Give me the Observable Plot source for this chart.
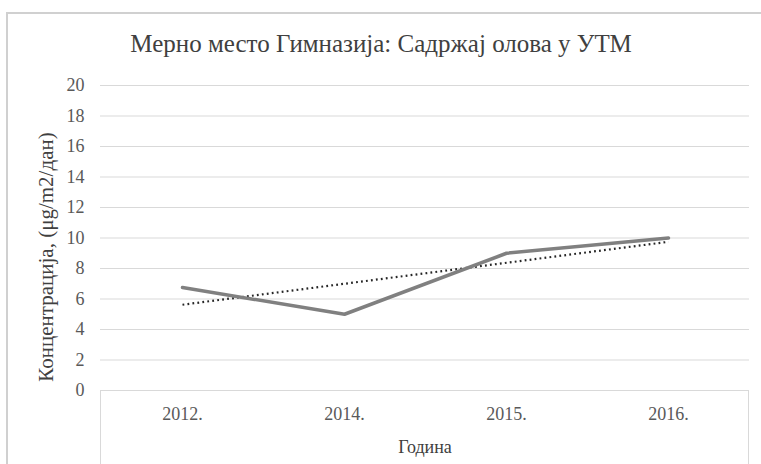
<!DOCTYPE html>
<html>
<head>
<meta charset="utf-8">
<script src="https://cdn.jsdelivr.net/npm/d3@7"></script>
<script src="https://cdn.jsdelivr.net/npm/@observablehq/plot@0.6"></script>
<style>
  html, body { margin: 0; padding: 0; background: #fff; }
  #wrap { position: relative; width: 761px; height: 464px; overflow: hidden; }
  #frame { position: absolute; left: 6px; top: 12px; width: 800px; height: 500px; border: 2px solid #d0d0d0; box-sizing: border-box; }
  #box { position: absolute; left: 100px; top: 390px; width: 649px; height: 80px; border-left: 1px solid #d9d9d9; border-right: 1px solid #d9d9d9; box-sizing: border-box; }
  #chart { position: absolute; left: 0; top: 0; }
</style>
</head>
<body>
<div id="wrap">
  <div id="frame"></div>
  <div id="box"></div>
  <div id="chart"></div>
</div>
<script>
const title = "Мерно место Гимназија: Садржај олова у УТМ";
const yLabel = "Концентрација, (μg/m2/дан)";
const xLabel = "Година";
const years = ["2012.", "2014.", "2015.", "2016."];
const values = [6.75, 5, 9, 10];
const yTicks = [0, 2, 4, 6, 8, 10, 12, 14, 16, 18, 20];

const data = years.map((y, i) => ({year: y, value: values[i]}));

// linear trend (least squares over category index)
const n = values.length;
const xs = values.map((_, i) => i + 1);
const mx = d3.mean(xs), my = d3.mean(values);
const slope = d3.sum(xs.map((x, i) => (x - mx) * (values[i] - my))) / d3.sum(xs.map(x => (x - mx) ** 2));
const trend = [
  {year: years[0], value: my + slope * (xs[0] - mx)},
  {year: years[n - 1], value: my + slope * (xs[n - 1] - mx)}
];

const font = "Liberation Serif";

const chart = Plot.plot({
  width: 761,
  height: 464,
  marginLeft: 100,
  marginRight: 12,
  marginTop: 85,
  marginBottom: 74,
  style: {fontFamily: font, background: "transparent"},
  x: {type: "point", domain: years, padding: 0.5, align: 0.5, label: null},
  y: {domain: [0, 20], ticks: yTicks, label: null},
  marks: [
    Plot.gridY(yTicks, {stroke: "#d9d9d9", strokeOpacity: 1, strokeWidth: 1}),
    Plot.axisY(yTicks, {tickSize: 0, tickPadding: 16, fontSize: 18, fontFamily: font, fill: "#595959", label: null}),
    Plot.axisX({tickSize: 0, tickPadding: 17, fontSize: 18, fontFamily: font, fill: "#595959", label: null}),
    Plot.line(trend, {x: "year", y: "value", stroke: "#262626", strokeWidth: 2.2, strokeDasharray: "1.8,3.2", strokeLinecap: "butt"}),
    Plot.line(data, {x: "year", y: "value", stroke: "#808080", strokeWidth: 3.5, strokeLinejoin: "round", strokeLinecap: "round"}),
    Plot.text([title], {frameAnchor: "top", dx: -44, dy: -51, fontSize: 25, fontFamily: font, fill: "#404040", text: d => d}),
    Plot.text([yLabel], {frameAnchor: "left", textAnchor: "middle", rotate: -90, dx: -54, dy: 19, fontSize: 21, fontFamily: font, fill: "#404040", text: d => d}),
    Plot.text([xLabel], {frameAnchor: "bottom", dy: 62, fontSize: 18, fontFamily: font, fill: "#404040", text: d => d})
  ]
});
document.getElementById("chart").appendChild(chart);
</script>
</body>
</html>
